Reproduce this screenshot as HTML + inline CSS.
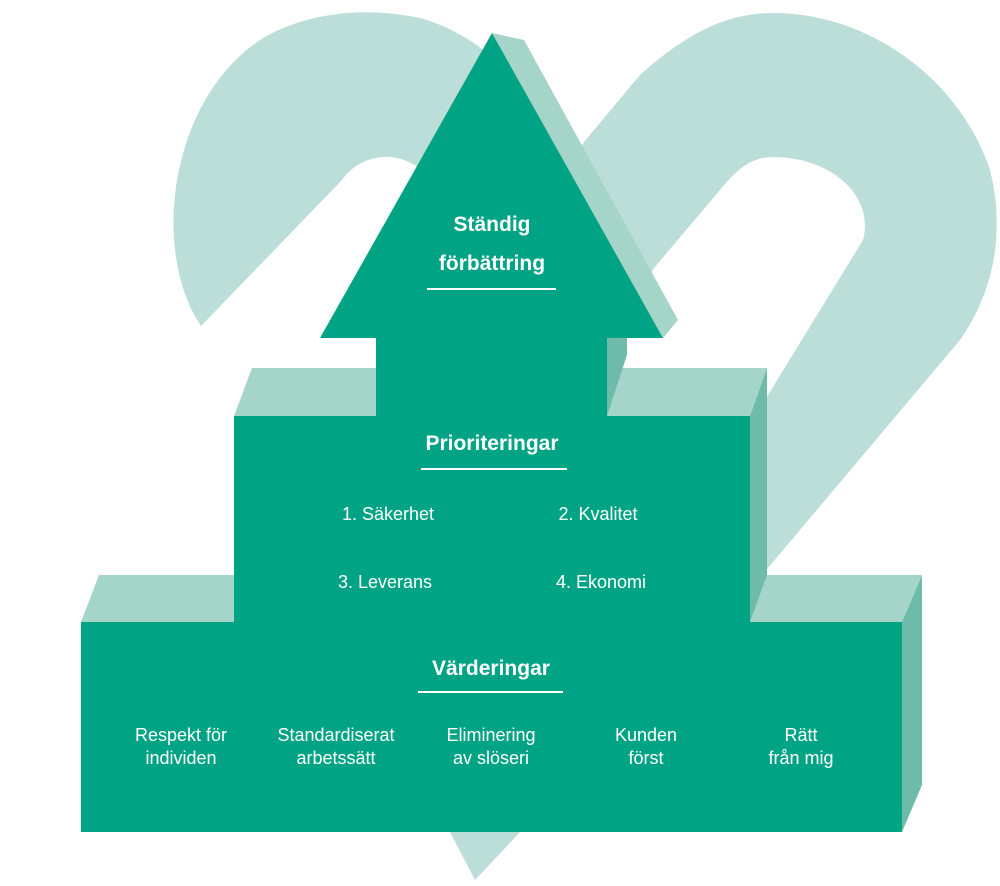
<!DOCTYPE html>
<html><head><meta charset="utf-8"><style>
body{margin:0;background:#fff;width:1000px;height:886px;overflow:hidden}
svg{display:block}
text{font-family:"Liberation Sans",sans-serif;fill:#fff}
</style></head><body>
<svg width="1000" height="886" viewBox="0 0 1000 886">
<g fill="#bcded8" fill-rule="evenodd">
<path d="M201,326 C150,250 170,100 260,40 C300,15 360,5 420,18 C465,30 510,65 540,110 L620,330 L450,200 C430,170 405,155 383,157 C365,158 350,168 342,180 Z"/>
<path d="M584,142 L640,75 C690,30 730,13 773,13 C870,13 960,80 990,170 C1005,230 995,290 960,340 L762,575 L475,880 L450,832 L400,600 L480,330 Z M654,268 L720,190 C740,165 755,157 773,157 C830,157 875,195 863,240 L768,395 L700,500 L560,420 Z"/>
</g>
<!-- bottom block -->
<polygon points="81,622 99,575 922,575 902,622" fill="#a5d4c8"/>
<polygon points="902,622 922,575 922,785 902,832" fill="#6fbba9"/>
<rect x="81" y="622" width="821" height="210" fill="#00a383"/>
<!-- middle block -->
<polygon points="234,416 252,368 767,368 750,416" fill="#a5d4c8"/>
<polygon points="750,416 767,368 767,575 750,622" fill="#6fbba9"/>
<rect x="234" y="416" width="516" height="207" fill="#00a383"/>
<!-- arrow side -->
<polygon points="492,33 524,40 678,320 663,338" fill="#a5d4c8"/>
<polygon points="607,338 627,338 627,355 607,416" fill="#6fbba9"/>
<polygon points="492,33 663,338 607,338 607,416 376,416 376,338 320,338" fill="#00a383"/>
<g text-anchor="middle" font-weight="bold" font-size="21">
<text x="492" y="231">Ständig</text>
<text x="492" y="270">förbättring</text>
<text x="492" y="450">Prioriteringar</text>
<text x="491" y="675">Värderingar</text>
</g>
<g stroke="#fff" stroke-width="2">
<line x1="427" y1="289" x2="556" y2="289"/>
<line x1="421" y1="469" x2="567" y2="469"/>
<line x1="418" y1="692" x2="563" y2="692"/>
</g>
<g text-anchor="middle" font-size="18">
<text x="388" y="520">1. Säkerhet</text>
<text x="598" y="520">2.  Kvalitet</text>
<text x="385" y="588">3. Leverans</text>
<text x="601" y="588">4. Ekonomi</text>
<text x="181" y="741">Respekt för</text>
<text x="181" y="764">individen</text>
<text x="336" y="741">Standardiserat</text>
<text x="336" y="764">arbetssätt</text>
<text x="491" y="741">Eliminering</text>
<text x="491" y="764">av slöseri</text>
<text x="646" y="741">Kunden</text>
<text x="646" y="764">först</text>
<text x="801" y="741">Rätt</text>
<text x="801" y="764">från mig</text>
</g>
</svg>
</body></html>
